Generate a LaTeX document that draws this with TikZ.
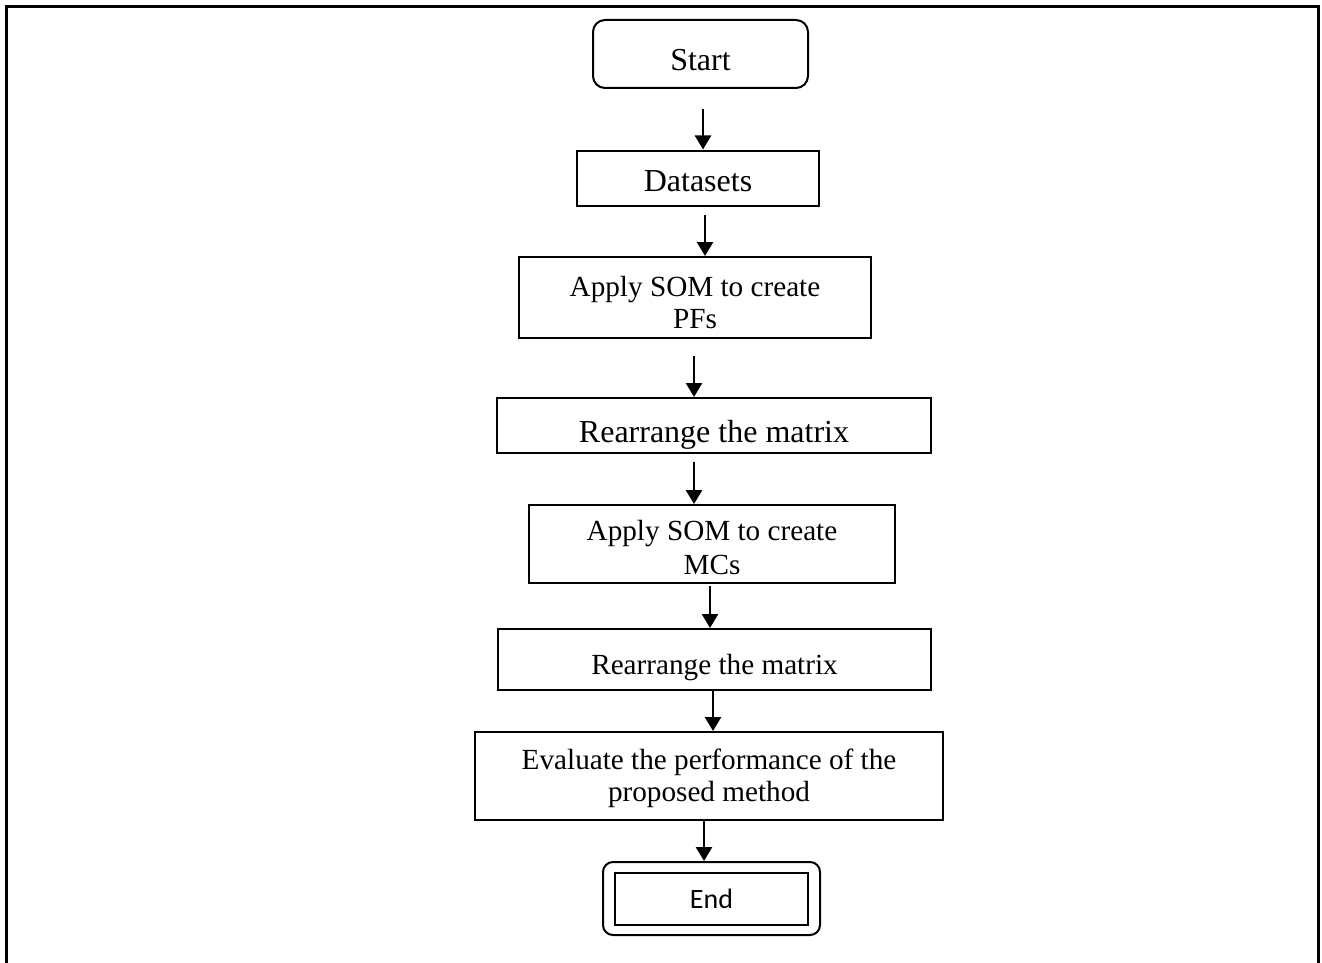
\documentclass[tikz,border=0pt]{standalone}
\usepackage{fontspec}
\setmainfont{Liberation Serif}
\newfontfamily\endfont{Carlito}
\usetikzlibrary{arrows.meta}

\newcommand{\lowered}[2]{\raisebox{-#1}[\height][\depth]{#2}}

\begin{document}
\begin{tikzpicture}[
  x=0.5pt, y=-0.5pt,
  box/.style={draw, line width=1pt, align=center, inner sep=0pt},
  bigtext/.style={font=\fontsize{16}{17}\selectfont},
  smalltext/.style={font=\fontsize{14.6}{16}\selectfont},
  flow/.style={->, line width=1.3pt},
  >={Triangle[length=7pt,width=8pt]}
]
  \useasboundingbox (0,0) rectangle (1322,963);
  % outer frame
  \draw[line width=1.5pt] (6,990) -- (6,7) -- (1318,7) -- (1318,990);

  \node[box, bigtext, rounded corners=6pt, minimum width=107.5pt, minimum height=34pt] (start) at (700.5,54) {\lowered{3pt}{Start}};
  \node[box, bigtext, minimum width=121pt, minimum height=27.5pt] (datasets) at (698,178) {\lowered{1.5pt}{Datasets}};
  \node[box, smalltext, minimum width=176pt, minimum height=40.5pt, text height=31pt] (pfs) at (695,297.5) {Apply SOM to create\\PFs};
  \node[box, bigtext, minimum width=217pt, minimum height=27.5pt] (rearrA) at (714,425.5) {\lowered{4.5pt}{Rearrange the matrix}};
  \node[box, font=\fontsize{14.6}{17}\selectfont, minimum width=183pt, minimum height=39pt, text height=31pt] (mcs) at (712,544) {Apply SOM to create\\MCs};
  \node[box, smalltext, minimum width=216.5pt, minimum height=30.5pt] (rearrB) at (714.5,659.5) {\lowered{4pt}{Rearrange the matrix}};
  \node[box, smalltext, minimum width=234pt, minimum height=44pt, text height=29pt] (evaluate) at (709,776) {Evaluate the performance of the\\proposed method};
  \node[box, rounded corners=5pt, minimum width=108.5pt, minimum height=36.5pt] (endouter) at (711.5,898.5) {};
  \node[box, font=\endfont\fontsize{14}{16}\selectfont, minimum width=96.5pt, minimum height=26pt] (endinner) at (endouter) {End};

  \draw[flow] ([xshift=1.25pt,yshift=-10pt]start.south) -- ([xshift=2.5pt]datasets.north);
  \draw[flow] ([xshift=3.5pt,yshift=-4pt]datasets.south) -- ([xshift=5pt]pfs.north);
  \draw[flow] ([xshift=-0.5pt,yshift=-8.5pt]pfs.south) -- ([xshift=-10pt]rearrA.north);
  \draw[flow] ([xshift=-10pt,yshift=-4pt]rearrA.south) -- ([xshift=-9pt]mcs.north);
  \draw[flow] ([xshift=-1pt,yshift=-1pt]mcs.south) -- ([xshift=-2.25pt]rearrB.north);
  \draw[flow] ([xshift=-0.75pt]rearrB.south) -- ([xshift=2pt]evaluate.north);
  \draw[flow] ([xshift=-2.5pt]evaluate.south) -- ([xshift=-3.75pt]endouter.north);
\end{tikzpicture}
\end{document}
